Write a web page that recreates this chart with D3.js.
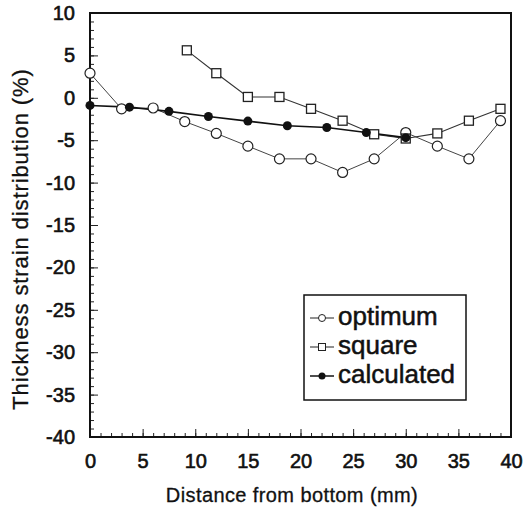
<!DOCTYPE html>
<html><head><meta charset="utf-8">
<script src="https://cdn.jsdelivr.net/npm/d3@7/dist/d3.min.js"></script>
<style>body{margin:0;background:#fff}text{font-family:"Liberation Sans",Arial,Helvetica,sans-serif;fill:#111}</style>
</head><body><svg id="c" width="524" height="513"></svg>
<script>
const optX = [0,3,6,9,12,15,18,21,24,27,30,33,36,39];
const optY = [2.9,-1.3,-1.2,-2.8,-4.2,-5.7,-7.2,-7.2,-8.8,-7.2,-4.1,-5.7,-7.2,-2.7];
const sqX = [9.2,12,15,18,21,24,27,30,33,36,39];
const sqY = [5.6,2.9,0.1,0.1,-1.3,-2.7,-4.3,-4.8,-4.2,-2.7,-1.3];
const calcX = [0,3.75,7.5,11.25,15,18.75,22.5,26.25,30];
const calcY = [-0.9,-1.1,-1.6,-2.2,-2.75,-3.3,-3.5,-4.1,-4.7];
const xTicks = [0,5,10,15,20,25,30,35,40];
const yTicks = [10,5,0,-5,-10,-15,-20,-25,-30,-35,-40];
const legendLabels = ["optimum","square","calculated"];

const svg = d3.select("#c");
const L=90,R=511,T=13,B=437;
const x = d3.scaleLinear().domain([0,40]).range([L,R]);
const y = d3.scaleLinear().domain([-40,10]).range([B,T]);

// minor ticks
svg.append("g").attr("transform",`translate(${L},0)`)
  .call(d3.axisLeft(y).tickValues(d3.range(-40,11,1)).tickSize(-4).tickFormat(""))
  .call(g=>{g.select(".domain").remove();g.selectAll("line").attr("stroke","#222");});
svg.append("g").attr("transform",`translate(0,${B})`)
  .call(d3.axisBottom(x).tickValues(d3.range(0,41,1)).tickSize(-4).tickFormat(""))
  .call(g=>{g.select(".domain").remove();g.selectAll("line").attr("stroke","#222");});
// major
svg.append("g").attr("transform",`translate(${L},0)`)
  .call(d3.axisLeft(y).tickValues(yTicks).tickSize(-8).tickPadding(15).tickFormat(d=>String(d)))
  .call(g=>{g.select(".domain").remove();g.selectAll("line").attr("stroke","#222");
    g.selectAll("text").style("font-size","20px").attr("fill","#111").attr("stroke","#111").attr("stroke-width",0.6);});
svg.append("g").attr("transform",`translate(0,${B})`)
  .call(d3.axisBottom(x).tickValues(xTicks).tickSize(-8).tickPadding(17).tickFormat(d=>String(d)))
  .call(g=>{g.select(".domain").remove();g.selectAll("line").attr("stroke","#222");
    g.selectAll("text").style("font-size","20px").attr("fill","#111").attr("stroke","#111").attr("stroke-width",0.6);});

svg.append("rect").attr("x",L).attr("y",T).attr("width",R-L).attr("height",B-T)
  .attr("fill","none").attr("stroke","#111").attr("stroke-width",2);

const line = d3.line().x(d=>x(d[0])).y(d=>y(d[1]));
const opt = optX.map((v,i)=>[v,optY[i]]);
const sq = sqX.map((v,i)=>[v,sqY[i]]);
const calc = calcX.map((v,i)=>[v,calcY[i]]);

svg.append("path").datum(opt).attr("d",line).attr("fill","none").attr("stroke","#444").attr("stroke-width",1);
svg.append("path").datum(sq).attr("d",line).attr("fill","none").attr("stroke","#333").attr("stroke-width",1.1);
svg.append("path").datum(calc).attr("d",line).attr("fill","none").attr("stroke","#111").attr("stroke-width",1.6);

svg.append("g").selectAll("circle").data(opt).join("circle")
  .attr("cx",d=>x(d[0])).attr("cy",d=>y(d[1])).attr("r",5)
  .attr("fill","#fff").attr("stroke","#222").attr("stroke-width",1.2);
svg.append("g").selectAll("rect").data(sq).join("rect")
  .attr("x",d=>x(d[0])-4.5).attr("y",d=>y(d[1])-4.5).attr("width",9).attr("height",9)
  .attr("fill","#fff").attr("stroke","#222").attr("stroke-width",1.3);
svg.append("g").selectAll("circle").data(calc).join("circle")
  .attr("cx",d=>x(d[0])).attr("cy",d=>y(d[1])).attr("r",4.5)
  .attr("fill","#111");

// axis titles
svg.append("text").attr("x",292).attr("y",502).attr("text-anchor","middle")
  .attr("stroke","#111").attr("stroke-width",0.3)
  .style("font-size","20px").style("letter-spacing","0.4px").text("Distance from bottom (mm)");
svg.append("text").attr("transform","translate(28,239) rotate(-90)").attr("text-anchor","middle")
  .attr("stroke","#111").attr("stroke-width",0.3)
  .style("font-size","22px").style("letter-spacing","0.9px").text("Thickness strain distribution (%)");

// legend
const lg = svg.append("g");
lg.append("rect").attr("x",304).attr("y",295).attr("width",162).attr("height",105)
  .attr("fill","#fff").attr("stroke","#111").attr("stroke-width",1.5);
const rows = lg.selectAll("g.row").data(legendLabels).join("g").attr("class","row")
  .attr("transform",(d,i)=>`translate(0,${325+i*29})`);
rows.append("line").attr("x1",310).attr("x2",334).attr("y1",-7).attr("y2",-7)
  .attr("stroke","#222").attr("stroke-width",d=>d==="calculated"?1.6:1);
rows.each(function(d){
  const g=d3.select(this);
  if(d==="optimum") g.append("circle").attr("cx",322).attr("cy",-7).attr("r",3.5).attr("fill","#fff").attr("stroke","#222");
  else if(d==="square") g.append("rect").attr("x",318.5).attr("y",-10.5).attr("width",7).attr("height",7).attr("fill","#fff").attr("stroke","#222");
  else g.append("circle").attr("cx",322).attr("cy",-7).attr("r",3.5).attr("fill","#111");
});
rows.append("text").attr("x",338).attr("y",0).style("font-size","26px")
  .attr("stroke","#111").attr("stroke-width",0.5).text(d=>d);
</script></body></html>
